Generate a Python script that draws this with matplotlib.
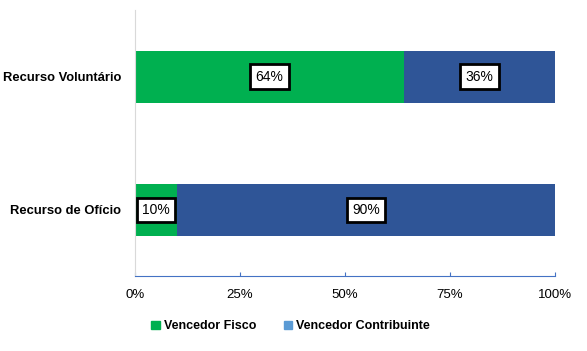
import matplotlib.pyplot as plt
from matplotlib.patches import Patch
from matplotlib.ticker import PercentFormatter

categories = ["Recurso de Ofício", "Recurso Voluntário"]
fisco = [10, 64]
contribuinte = [90, 36]
series_names = ["Vencedor Fisco", "Vencedor Contribuinte"]

green = "#00B050"
blue = "#2F5597"
legend_blue = "#5B9BD5"

plt.rcParams["font.family"] = ["Liberation Sans", "DejaVu Sans"]

fig = plt.figure(figsize=(5.87, 3.51), dpi=100)
ax = fig.add_axes([0.230, 0.2125, 0.7155, 0.759])

ypos = range(len(categories))
ax.barh(ypos, fisco, height=0.39, color=green)
ax.barh(ypos, contribuinte, left=fisco, height=0.39, color=blue)

box = dict(boxstyle="square,pad=0.38", fc="white", ec="black", lw=2)
for y, f, c in zip(ypos, fisco, contribuinte):
    ax.text(f / 2, y, f"{f}%", ha="center", va="center", fontsize=10, bbox=box)
    ax.text(f + c / 2, y, f"{c}%", ha="center", va="center", fontsize=10, bbox=box)

ax.set_xlim(0, 100)
ax.set_ylim(-0.5, 1.5)
ax.set_xticks([0, 25, 50, 75, 100])
ax.xaxis.set_major_formatter(PercentFormatter(decimals=0))
ax.set_yticks(list(ypos))
ax.set_yticklabels(categories, fontweight="bold", fontsize=9.4)
ax.tick_params(axis="y", length=0, pad=10)
ax.tick_params(axis="x", direction="in", length=3, color="#4472C4", labelsize=9.5, pad=9)

for s in ["top", "right"]:
    ax.spines[s].set_visible(False)
ax.spines["left"].set_color("#D9D9D9")
ax.spines["bottom"].set_color("#4472C4")

handles = [Patch(color=green), Patch(color=legend_blue)]
fig.legend(handles, series_names, loc="center", bbox_to_anchor=(0.495, 0.07), ncol=2,
           frameon=False, handlelength=0.7, handleheight=0.7, handletextpad=0.3,
           columnspacing=2.2, prop={"weight": "bold", "size": 9})

fig.savefig("out.png", dpi=100)
